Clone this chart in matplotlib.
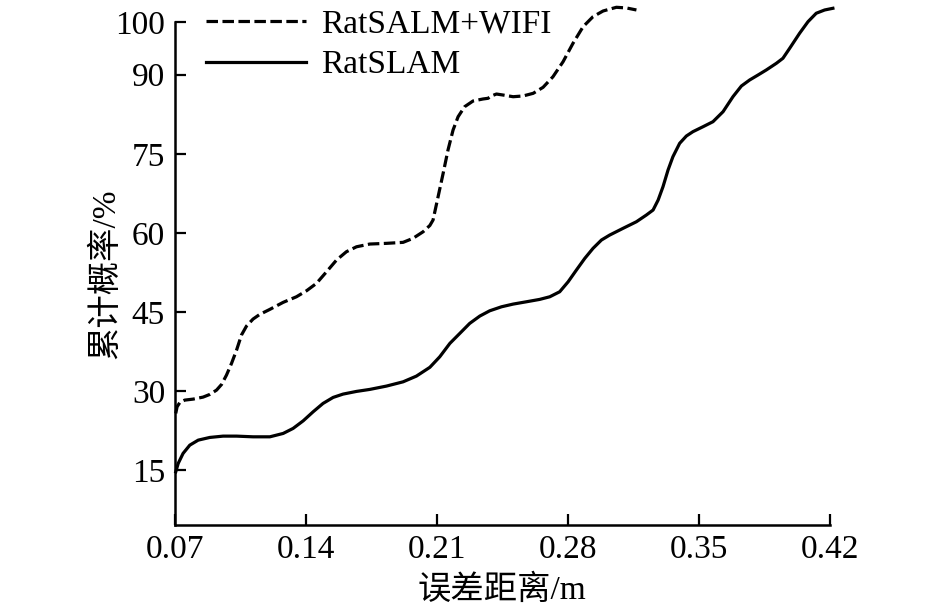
import numpy as np
import matplotlib.pyplot as plt

plt.rcParams['font.family'] = ['Liberation Serif', 'Noto Sans CJK SC']

# ---- Datos ----
x_wifi = [0.0705, 0.0712, 0.0727, 0.0753, 0.0798, 0.0851, 0.0887, 0.0923, 0.0950,
          0.0976, 0.1003, 0.1030, 0.1056, 0.1083, 0.1118, 0.1154, 0.1208, 0.1279,
          0.1350, 0.1404, 0.1457, 0.1511, 0.1564, 0.1617, 0.1671, 0.1742, 0.1831,
          0.1920, 0.1973, 0.2027, 0.2063, 0.2080, 0.2107, 0.2134, 0.2160, 0.2187,
          0.2214, 0.2249, 0.2294, 0.2347, 0.2374, 0.2392, 0.2419, 0.2454, 0.2508,
          0.2561, 0.2615, 0.2668, 0.2721, 0.2775, 0.2828, 0.2882, 0.2935, 0.2989,
          0.3060, 0.3114, 0.3167]
y_wifi = [25.76, 27.01, 27.84, 28.28, 28.47, 28.85, 29.36, 30.18, 31.26,
          33.02, 35.24, 37.77, 40.61, 42.32, 43.65, 44.54, 45.49, 46.82,
          47.88, 49.02, 50.42, 52.63, 54.84, 56.42, 57.36, 57.88, 58.01,
          58.20, 58.96, 60.21, 61.40, 62.43, 66.85, 71.29, 75.71, 79.50,
          82.03, 83.93, 85.01, 85.39, 85.52, 85.96, 86.33, 86.14, 85.82,
          85.96, 86.46, 87.60, 89.61, 92.46, 95.95, 99.10, 101.0, 102.08,
          102.78, 102.65, 102.27]

x_rat = [0.0705, 0.0718, 0.0744, 0.0780, 0.0825, 0.0887, 0.0958, 0.1030, 0.1118,
         0.1208, 0.1279, 0.1332, 0.1386, 0.1439, 0.1492, 0.1546, 0.1599, 0.1671,
         0.1742, 0.1831, 0.1920, 0.1991, 0.2063, 0.2116, 0.2170, 0.2223, 0.2276,
         0.2330, 0.2383, 0.2446, 0.2508, 0.2579, 0.2650, 0.2704, 0.2757, 0.2802,
         0.2846, 0.2891, 0.2935, 0.2980, 0.3024, 0.3095, 0.3167, 0.3220, 0.3256,
         0.3283, 0.3309, 0.3336, 0.3362, 0.3398, 0.3434, 0.3469, 0.3523, 0.3576,
         0.3630, 0.3683, 0.3728, 0.3772, 0.3817, 0.3861, 0.3915, 0.3950, 0.3986,
         0.4039, 0.4084, 0.4128, 0.4173, 0.4217]
y_rat = [14.68, 16.27, 18.17, 19.74, 20.69, 21.20, 21.45, 21.45, 21.32,
         21.32, 21.96, 22.91, 24.35, 26.06, 27.65, 28.79, 29.42, 29.93,
         30.31, 30.94, 31.75, 32.83, 34.5, 36.5, 39.04, 40.93, 42.83,
         44.22, 45.22, 45.98, 46.49, 46.93, 47.38, 47.88, 48.83, 50.72,
         52.94, 55.16, 57.06, 58.64, 59.58, 60.85, 62.11, 63.38, 64.33,
         66.22, 68.75, 71.92, 74.44, 76.98, 78.37, 79.19, 80.13, 81.08,
         82.98, 85.83, 87.85, 88.99, 89.94, 90.89, 92.16, 93.11, 95.0,
         97.85, 100.05, 101.65, 102.27, 102.59]

x_ticks = [0.07, 0.14, 0.21, 0.28, 0.35, 0.42]
y_ticks = [15, 30, 45, 60, 75, 90, 100]
# -----------------------------------

fig = plt.figure(figsize=(9.45, 6.13), dpi=100)
ax = fig.add_axes([0.185, 0.1436, 0.693, 0.8206])

ax.plot(x_wifi, y_wifi, color='black', lw=2.3, dashes=(3.6, 1.4),
        label='RatSALM+WIFI', clip_on=False)
ax.plot(x_rat, y_rat, color='black', lw=2.3, label='RatSLAM', clip_on=False)

ax.set_xlim(0.07, 0.42)
ax.set_ylim(4.6, 100)
ax.set_xticks(x_ticks)
ax.set_xticklabels(['%.2f' % v for v in x_ticks])
ax.set_yticks(y_ticks)

for s in ['top', 'right']:
    ax.spines[s].set_visible(False)
for s in ['left', 'bottom']:
    ax.spines[s].set_linewidth(1.8)

ax.tick_params(direction='in', length=8, width=1.6, labelsize=24, pad=7)

ax.set_xlabel('误差距离/m', fontsize=24, labelpad=7)
ax.set_ylabel('累计概率/%', fontsize=24, labelpad=-4)

ax.legend(loc='upper left', bbox_to_anchor=(0.002, 1.085), frameon=False,
          fontsize=24, handlelength=3.0, handletextpad=0.45, labelspacing=0.3)

plt.savefig('out.png', dpi=100)
